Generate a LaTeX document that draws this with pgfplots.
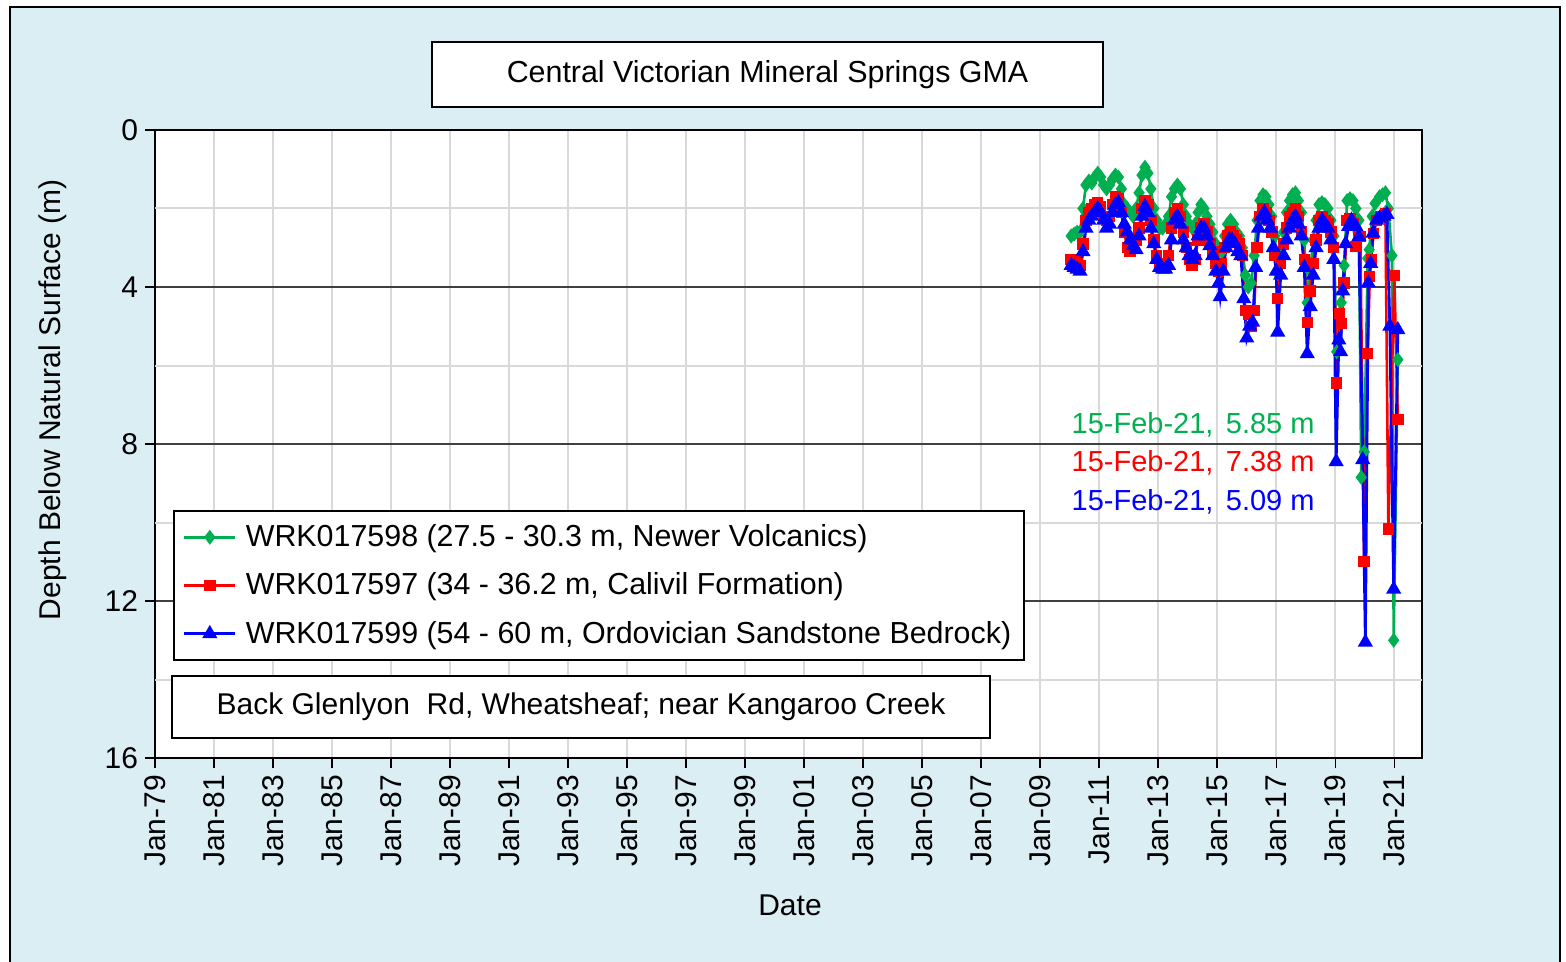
\documentclass[border=0pt]{standalone}
\usepackage{pgfplots}
\usepackage{pgfplotstable}
\pgfplotsset{compat=1.18}
\usepackage{fontspec}
\setmainfont{Liberation Sans}
\definecolor{bgblue}{RGB}{219,238,244}
\definecolor{cgreen}{RGB}{0,176,80}
\definecolor{cred}{RGB}{255,0,0}
\definecolor{cblue}{RGB}{0,0,255}

\pgfplotstableread{
x y
2010.05 2.7
2010.15 2.65
2010.25 2.6
2010.35 2.6
2010.45 2.0
2010.55 1.4
2010.65 1.3
2010.75 1.35
2010.85 1.2
2010.95 1.1
2011.05 1.2
2011.15 1.4
2011.25 1.5
2011.35 1.4
2011.45 1.25
2011.55 1.15
2011.65 1.2
2011.75 1.5
2011.85 1.9
2011.95 2.0
2012.05 2.1
2012.15 2.2
2012.25 2.0
2012.35 1.6
2012.45 1.15
2012.55 0.95
2012.65 1.1
2012.75 1.5
2012.85 2.0
2012.95 2.3
2013.05 2.5
2013.15 2.5
2013.25 2.4
2013.35 2.2
2013.45 1.7
2013.55 1.5
2013.65 1.4
2013.75 1.5
2013.85 1.9
2013.95 2.2
2014.05 2.4
2014.15 2.5
2014.25 2.4
2014.35 2.1
2014.45 1.9
2014.55 2.0
2014.65 2.2
2014.75 2.4
2014.85 2.6
2014.95 2.9
2015.05 3.1
2015.15 3.1
2015.25 2.7
2015.35 2.4
2015.45 2.3
2015.55 2.4
2015.65 2.6
2015.75 2.7
2015.85 3.0
2015.95 3.7
2016.05 4.0
2016.15 3.9
2016.25 3.2
2016.35 2.3
2016.45 1.8
2016.55 1.65
2016.65 1.7
2016.75 1.9
2016.85 2.2
2016.95 2.7
2017.05 3.65
2017.15 3.2
2017.25 2.6
2017.35 2.1
2017.45 1.8
2017.55 1.65
2017.65 1.6
2017.75 1.8
2017.85 2.1
2017.95 2.8
2018.05 4.4
2018.15 3.6
2018.25 2.8
2018.35 2.3
2018.45 1.9
2018.55 1.85
2018.65 1.9
2018.75 2.0
2018.85 2.3
2018.95 2.7
2019.05 5.65
2019.2 4.4
2019.3 3.45
2019.4 1.8
2019.5 1.75
2019.6 1.8
2019.7 2.0
2019.8 2.3
2019.88 8.85
2019.98 8.2
2020.1 3.27
2020.15 3.05
2020.25 2.2
2020.35 1.87
2020.5 1.7
2020.6 1.65
2020.7 1.6
2020.8 2.0
2020.92 3.2
2020.98 13.0
2021.12 5.85
}\greendata

\pgfplotstableread{
x y
2010.05 3.3
2010.15 3.35
2010.25 3.4
2010.35 3.45
2010.45 2.9
2010.55 2.3
2010.65 2.1
2010.75 2.0
2010.85 1.9
2010.95 1.85
2011.05 1.95
2011.15 2.2
2011.25 2.3
2011.35 2.2
2011.45 1.9
2011.55 1.7
2011.65 1.75
2011.75 2.1
2011.85 2.6
2011.95 3.0
2012.05 3.1
2012.15 2.9
2012.25 2.8
2012.35 2.5
2012.45 2.0
2012.55 1.8
2012.65 1.9
2012.75 2.3
2012.85 2.8
2012.95 3.2
2013.05 3.4
2013.15 3.5
2013.25 3.4
2013.35 3.2
2013.45 2.5
2013.55 2.1
2013.65 2.0
2013.75 2.2
2013.85 2.6
2013.95 3.0
2014.05 3.3
2014.15 3.45
2014.25 3.3
2014.35 2.8
2014.45 2.5
2014.55 2.4
2014.65 2.6
2014.75 2.9
2014.85 3.1
2014.95 3.4
2015.05 3.6
2015.15 3.4
2015.25 3.0
2015.35 2.7
2015.45 2.6
2015.55 2.7
2015.65 2.8
2015.75 2.9
2015.85 3.2
2015.95 4.6
2016.05 4.7
2016.15 5.0
2016.25 4.6
2016.35 3.0
2016.45 2.2
2016.55 2.0
2016.65 2.1
2016.75 2.3
2016.85 2.6
2016.95 3.2
2017.05 4.3
2017.15 3.4
2017.25 2.9
2017.35 2.5
2017.45 2.2
2017.55 2.1
2017.65 2.0
2017.75 2.2
2017.85 2.6
2017.95 3.3
2018.05 4.9
2018.15 4.1
2018.25 3.4
2018.35 2.8
2018.45 2.3
2018.55 2.2
2018.65 2.3
2018.75 2.4
2018.85 2.6
2018.95 3.0
2019.05 6.45
2019.15 4.67
2019.22 4.93
2019.3 3.9
2019.4 2.3
2019.5 2.25
2019.6 2.4
2019.7 2.97
2019.85 2.72
2019.98 11.0
2020.1 5.7
2020.17 3.74
2020.22 3.3
2020.3 2.63
2020.4 2.3
2020.55 2.2
2020.7 2.12
2020.8 10.17
2021.0 3.7
2021.12 7.38
}\reddata

\pgfplotstableread{
x y
2010.05 3.45
2010.15 3.5
2010.25 3.55
2010.35 3.6
2010.45 3.1
2010.55 2.5
2010.65 2.3
2010.75 2.2
2010.85 2.1
2010.95 2.0
2011.05 2.1
2011.15 2.3
2011.25 2.5
2011.35 2.4
2011.45 2.1
2011.55 1.9
2011.65 1.85
2011.75 2.1
2011.85 2.4
2011.95 2.6
2012.05 2.8
2012.15 2.95
2012.25 3.05
2012.35 2.7
2012.45 2.2
2012.55 1.95
2012.65 2.1
2012.75 2.5
2012.85 2.9
2012.95 3.3
2013.05 3.5
2013.15 3.55
2013.25 3.55
2013.35 3.45
2013.45 2.8
2013.55 2.3
2013.65 2.2
2013.75 2.4
2013.85 2.8
2013.95 3.0
2014.05 3.2
2014.15 3.3
2014.25 3.2
2014.35 2.7
2014.45 2.5
2014.55 2.5
2014.65 2.7
2014.75 2.95
2014.85 3.2
2014.95 3.6
2015.05 3.9
2015.1 4.25
2015.2 3.6
2015.3 3.0
2015.4 2.8
2015.5 2.8
2015.6 2.9
2015.7 3.1
2015.8 3.2
2015.9 4.3
2016.0 5.3
2016.1 5.0
2016.2 4.9
2016.3 3.5
2016.4 2.5
2016.5 2.2
2016.6 2.1
2016.7 2.3
2016.8 2.5
2016.9 3.0
2017.0 3.6
2017.05 5.15
2017.15 3.7
2017.25 3.2
2017.35 2.8
2017.45 2.5
2017.55 2.3
2017.65 2.2
2017.75 2.4
2017.85 2.7
2017.95 3.5
2018.05 5.7
2018.15 4.5
2018.25 3.7
2018.35 3.0
2018.45 2.5
2018.55 2.3
2018.65 2.4
2018.75 2.5
2018.85 2.8
2018.95 3.3
2019.03 8.45
2019.12 5.35
2019.18 5.65
2019.25 4.1
2019.35 2.9
2019.45 2.46
2019.55 2.3
2019.7 2.46
2019.8 2.72
2019.93 8.4
2020.02 13.05
2020.12 3.9
2020.2 3.4
2020.28 2.63
2020.4 2.3
2020.5 2.25
2020.65 2.2
2020.75 2.15
2020.85 5.0
2020.98 11.7
2021.12 5.09
}\bluedata

\begin{document}
\begin{tikzpicture}[font=\fontsize{15}{18}\selectfont]
\path[use as bounding box, fill=white] (-77.5pt,-102pt) rectangle (705.5pt,379pt);
\draw[fill=bgblue, line width=1pt] (-72.5pt,-110pt) rectangle (702.5pt,375.5pt);
\begin{axis}[
  at={(0pt,0pt)}, anchor=south west,
  scale only axis, width=633.5pt, height=314pt,
  xmin=1979, xmax=2021.94, ymin=0, ymax=16, y dir=reverse,
  axis background/.style={fill=white},
  axis line style={black, line width=0.8pt},
  xtick={1979,1981,...,2021},
  xticklabels={Jan-79,Jan-81,Jan-83,Jan-85,Jan-87,Jan-89,Jan-91,Jan-93,Jan-95,Jan-97,Jan-99,Jan-01,Jan-03,Jan-05,Jan-07,Jan-09,Jan-11,Jan-13,Jan-15,Jan-17,Jan-19,Jan-21},
  x tick label style={rotate=90, anchor=east, font=\fontsize{15}{18}\selectfont},
  minor x tick num=1,
  xmajorgrids, xminorgrids,
  major x grid style={gray!30, line width=1pt},
  minor x grid style={gray!30, line width=1pt},
  ytick={0,4,8,12,16},
  ymajorgrids,
  major y grid style={black!75, line width=0.7pt},
  extra y ticks={2,6,10,14},
  extra y tick labels={},
  extra y tick style={major tick length=0pt, major y grid style={gray!30, line width=1pt}},
  y tick label style={font=\fontsize{15}{18}\selectfont},
  /pgf/number format/assume math mode=true,
  tick align=outside, tick pos=left,
  major tick length=5pt, minor tick length=3pt,
  tick style={black, line width=0.8pt},
  legend style={at={(0.0142,0.395)}, anchor=north west, draw=black, line width=0.8pt, fill=white,
    font=\fontsize{15.2}{18}\selectfont, row sep=7.6pt, inner xsep=4.5pt, inner ysep=5pt,
    /tikz/every odd column/.append style={column sep=2.5pt}},
  legend cell align=left,
  legend image code/.code={\draw[mark repeat=2, mark phase=2] plot coordinates {(0cm,0cm) (0.45cm,0cm) (0.9cm,0cm)};},
]
\addplot[color=cgreen, line width=1.3pt, mark=diamond*, mark size=2.7pt, mark options={solid}] table {\greendata};
\addlegendentry{WRK017598 (27.5 - 30.3 m, Newer Volcanics)}
\addplot[color=cred, line width=1.3pt, mark=square*, mark size=2.2pt, mark options={solid}] table {\reddata};
\addlegendentry{WRK017597 (34 - 36.2 m, Calivil Formation)}
\addplot[color=cblue, line width=1.4pt, mark=triangle*, mark size=3pt, mark options={solid}] table {\bluedata};
\addlegendentry{WRK017599 (54 - 60 m, Ordovician Sandstone Bedrock)}
\end{axis}
\node[draw=black, line width=1pt, fill=white, minimum width=335.5pt, minimum height=32.5pt, inner sep=0pt, font=\fontsize{15.2}{18}\selectfont] at (306.25pt,341.5pt) {Central Victorian Mineral Springs GMA};
\node[draw=black, line width=1pt, fill=white, minimum width=409pt, minimum height=31pt, inner sep=0pt] at (213pt,25.5pt) {Back Glenlyon\ \ Rd, Wheatsheaf; near Kangaroo Creek};
\begin{scope}[font=\fontsize{14.5}{17}\selectfont]
\node[anchor=east, text=cgreen, inner sep=0pt] at (580pt,166.5pt) {15-Feb-21,\hspace{0.15em} 5.85 m};
\node[anchor=east, text=cred, inner sep=0pt] at (580pt,147.5pt) {15-Feb-21,\hspace{0.15em} 7.38 m};
\node[anchor=east, text=cblue, inner sep=0pt] at (580pt,128pt) {15-Feb-21,\hspace{0.15em} 5.09 m};
\end{scope}
\node[rotate=90] at (-51pt,179pt) {Depth Below Natural Surface (m)};
\node at (317.5pt,-73.5pt) {Date};
\end{tikzpicture}
\end{document}
